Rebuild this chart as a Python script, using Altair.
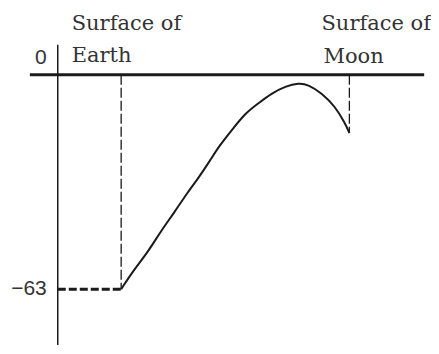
import altair as alt
import pandas as pd

# Potential curve between the surfaces (arbitrary distance units, potential units)
curve_x = [1.0, 1.209, 1.418, 1.628, 1.837, 2.046, 2.203, 2.413, 2.543, 2.752, 2.962,
           3.171, 3.380, 3.590, 3.799, 3.956, 4.165, 4.375, 4.532, 4.60]
curve_y = [-63, -57.1, -52.2, -45.9, -40.5, -34.6, -30.8, -24.9, -21.0, -16.1, -11.2,
           -8.3, -5.4, -3.4, -2.4, -2.9, -5.4, -9.3, -14.2, -17.1]
earth_x = 1.0
moon_x = 4.60
earth_potential = -63
moon_potential = -17.1
tick_values = [0, -63]
tick_labels = ["0", "\u221263"]
site_names = ["Earth", "Moon"]
site_x = [0.22, 4.16]
site_line1 = ["Surface of", "Surface of"]

X = alt.Scale(domain=[-0.785, 5.856], nice=False, zero=False)
Y = alt.Scale(domain=[-79.41, 19.63], nice=False, zero=False)
INK = "#1a1a1a"

curve = pd.DataFrame({"x": curve_x, "y": curve_y})

def xe(field="x"):
    return alt.X(f"{field}:Q", scale=X, axis=None)

def ye(field="y"):
    return alt.Y(f"{field}:Q", scale=Y, axis=None)

vaxis = alt.Chart(pd.DataFrame({"x": [0], "y": [8.8], "y2": [-79.4]})).mark_rule(
    color=INK, strokeWidth=1.5).encode(x=xe(), y=ye(), y2="y2:Q")

zero_line = alt.Chart(pd.DataFrame({"x": [-0.44], "x2": [5.78], "y": [0]})).mark_rule(
    color=INK, strokeWidth=3).encode(x=xe(), x2="x2:Q", y=ye())

surf = pd.DataFrame({"x": [earth_x, moon_x], "y": [0, 0], "y2": [earth_potential, moon_potential]})
surf_lines = alt.Chart(surf).mark_rule(
    color=INK, strokeWidth=1.3, strokeDash=[10, 3]).encode(x=xe(), y=ye(), y2="y2:Q")

level = alt.Chart(pd.DataFrame({"x": [0], "x2": [earth_x], "y": [earth_potential]})).mark_rule(
    color=INK, strokeWidth=3, strokeDash=[8, 3]).encode(x=xe(), x2="x2:Q", y=ye())

line = alt.Chart(curve).mark_line(color=INK, strokeWidth=2, interpolate="basis").encode(
    x=xe(), y=ye(), order="x:Q")

ticks = pd.DataFrame({"x": [-0.173, -0.173], "y": tick_values, "t": tick_labels})
zero_lab = alt.Chart(ticks.iloc[[0]]).mark_text(
    align="right", baseline="middle", dy=-17, font="Liberation Sans", fontSize=21, color="#333"
).encode(x=xe(), y=ye(), text="t:N")
m63_lab = alt.Chart(ticks.iloc[[1]]).mark_text(
    align="right", baseline="middle", font="Liberation Sans", fontSize=21, color="#333"
).encode(x=xe(), y=ye(), text="t:N")

sites1 = pd.DataFrame({"x": site_x, "y": [13.19, 13.19], "t": site_line1})
sites2 = pd.DataFrame({"x": [site_x[0], site_x[1] + 0.03], "y": [3.81, 3.6], "t": site_names})
site_lab1 = alt.Chart(sites1).mark_text(
    align="left", baseline="alphabetic", font="DejaVu Serif", fontSize=21, color="#333"
).encode(x=xe(), y=ye(), text="t:N")
site_lab2 = alt.Chart(sites2).mark_text(
    align="left", baseline="alphabetic", font="DejaVu Serif", fontSize=21, color="#333"
).encode(x=xe(), y=ye(), text="t:N")

chart = alt.layer(
    vaxis, zero_line, surf_lines, level, line, zero_lab, m63_lab, site_lab1, site_lab2
).properties(
    width=423, height=338,
    autosize=alt.AutoSizeParams(type="fit", contains="padding"),
    padding=0,
).configure_view(stroke=None)

chart.save("out.html", embed_options={"renderer": "svg", "actions": False})
